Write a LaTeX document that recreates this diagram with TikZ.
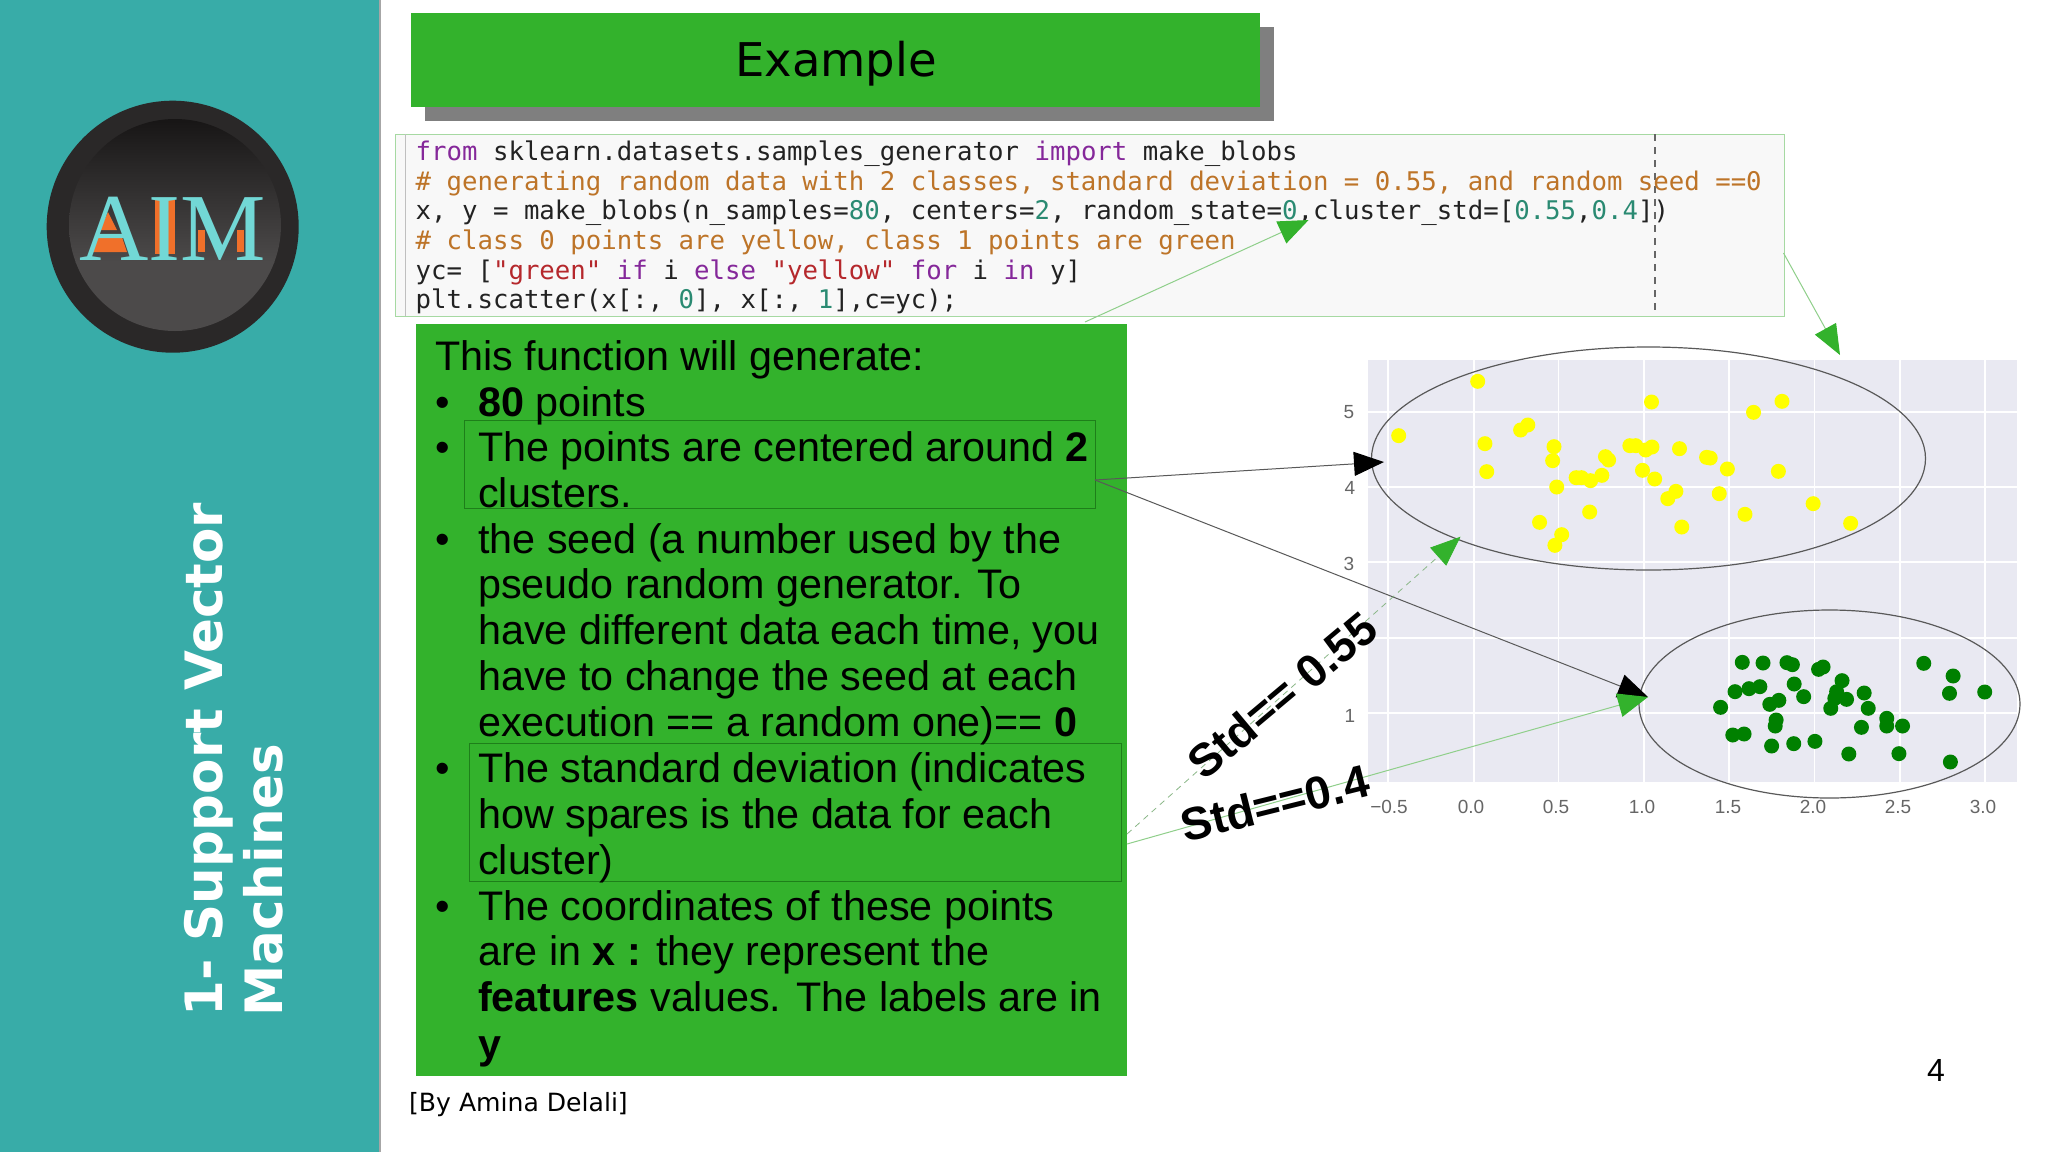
\documentclass[tikz,border=0pt]{standalone}
\usepackage{fontspec}
\setmainfont{Liberation Sans}
\newfontfamily\dejavu{DejaVu Sans}
\newfontfamily\dejamono{DejaVu Sans Mono}
\newfontfamily\logofont{Liberation Serif}
\usetikzlibrary{arrows.meta}
\definecolor{sidebar}{HTML}{38ACA8}
\definecolor{boxgreen}{HTML}{33B22C}
\definecolor{innerline}{HTML}{1E7F1A}
\definecolor{shadowgray}{HTML}{7F7F7F}
\definecolor{codebg}{HTML}{F8F8F8}
\definecolor{codeline}{HTML}{A6D9A2}
\definecolor{plotbg}{HTML}{E9E9F2}
\definecolor{arrowline}{HTML}{8FCF8A}
\definecolor{tick}{HTML}{666666}
\definecolor{ckw}{HTML}{85289A}
\definecolor{ccm}{HTML}{BD7428}
\definecolor{cstr}{HTML}{B5282C}
\definecolor{cnum}{HTML}{2A8A72}
\definecolor{ctx}{HTML}{222222}
\definecolor{logocyan}{HTML}{72D8D6}
\definecolor{logoorange}{HTML}{F0702A}
\definecolor{logotop}{HTML}{141212}
\definecolor{logomid}{HTML}{221F1F}
\definecolor{logolow}{HTML}{4C4A4A}
\definecolor{logoring}{HTML}{2A2828}
\definecolor{dotyellow}{RGB}{255,255,0}
\definecolor{dotgreen}{RGB}{0,128,0}
\newcommand{\kw}[1]{\textcolor{ckw}{#1}}
\newcommand{\cm}[1]{\textcolor{ccm}{#1}}
\newcommand{\st}[1]{\textcolor{cstr}{#1}}
\newcommand{\nm}[1]{\textcolor{cnum}{#1}}
\tikzset{
  flatbox/.style={rectangle,inner sep=0pt,outer sep=0pt,anchor=north west},
  gtext/.style={anchor=base west,inner sep=0pt,text=black,font=\fontsize{41.3}{46}\selectfont},
  gbullet/.style={anchor=base,inner sep=0pt,text=black,font=\fontsize{41.3}{46}\selectfont},
  codetext/.style={anchor=base west,inner sep=0pt,text=ctx,font=\dejamono\fontsize{25.7}{30}\selectfont},
  xtick/.style={anchor=center,inner sep=0pt,text=tick,font=\fontsize{19}{22}\selectfont},
  stdlabel/.style={inner sep=0pt,text=black,font=\bfseries\fontsize{46}{50}\selectfont},
  sidetext/.style={anchor=base west,inner sep=0pt,rotate=90,text=white,font=\dejavu\bfseries\fontsize{51.5}{56}\selectfont},
  ring/.style={draw=black!65,line width=1.2pt},
  blackarrow/.style={draw=black!65,line width=1pt,-{Triangle[length=30pt,width=24pt,color=black]}},
  greenarrow/.style={draw=arrowline,line width=1pt,-{Triangle[length=30pt,width=24pt,color=boxgreen]}},
  greendash/.style={draw=arrowline!70!gray,line width=.8pt,dash pattern=on 6pt off 5pt,-{Triangle[length=30pt,width=24pt,color=boxgreen]}},
}
\begin{document}
\begin{tikzpicture}[x=1pt,y=-1pt]
\useasboundingbox (0,0) rectangle (2048,1152);
\fill[white] (0,0) rectangle (2048,1152);
% side bar
\fill[black!35] (378,0) rectangle (381,1152);
\fill[sidebar] (0,0) rectangle (379,1152);
% logo
\fill[logoring] (172.7,226.7) circle[radius=126pt];
\begin{scope}
\clip (175,225) circle[radius=106pt];
\shade[top color=logotop,middle color=logomid,bottom color=logolow] (50,110) rectangle (300,262);
\fill[logolow] (50,262) rectangle (300,360);
\end{scope}
\fill[logoorange] (108,212) -- (100,230) -- (117,230) -- cycle;
\fill[logoorange] (95,237) -- (122,237) -- (127,252) -- (93,252) -- cycle;
\fill[logoorange] (155,200) rectangle (160,254);
\fill[logoorange] (168,200) rectangle (175,254);
\fill[logoorange] (198,230) rectangle (205,252);
\fill[logoorange] (237,230) rectangle (244,252);
\node[inner sep=0pt,anchor=base,text=logocyan,font=\logofont\fontsize{96}{100}\selectfont] (logo) at (172.7,260) {AIM};
\node[sidetext] (side1) at (222,1017) {1- Support Vector};
\node[sidetext] (side2) at (282,1017) {Machines};
% title
\node[flatbox,fill=shadowgray,minimum width=849pt,minimum height=94pt] (titleshadow) at (424.5,27) {};
\node[flatbox,fill=boxgreen,minimum width=849pt,minimum height=94pt] (titlebox) at (410.5,13) {};
\node[inner sep=0pt,text=black,font=\dejavu\fontsize{46.5}{50}\selectfont] (titletext) at (836,64) {Example};
% code
\node[flatbox,fill=codebg,draw=codeline,line width=1pt,minimum width=1389pt,minimum height=182pt] (codebox) at (395,134) {};
\draw[black!25,line width=1pt] (405,134) -- (405,316);
\draw[black!60,line width=1.1pt,dash pattern=on 7pt off 6pt] (1655,134) -- (1655,311);
\node[codetext] (c1) at (415.5,160.5) {\kw{from} sklearn.datasets.samples\_generator \kw{import} make\_blobs};
\node[codetext] (c2) at (415.5,190.5) {\cm{\# generating random data with 2 classes, standard deviation = 0.55, and random seed ==0}};
\node[codetext] (c3) at (415.5,219.5) {x, y = make\_blobs(n\_samples=\nm{80}, centers=\nm{2}, random\_state=\nm{0},cluster\_std=[\nm{0.55},\nm{0.4}])};
\node[codetext] (c4) at (415.5,249.5) {\cm{\# class 0 points are yellow, class 1 points are green}};
\node[codetext] (c5) at (415.5,279) {yc= [\st{"green"} \kw{if} i \kw{else} \st{"yellow"} \kw{for} i \kw{in} y]};
\node[codetext] (c6) at (415.5,308.5) {plt.scatter(x[:, \nm{0}], x[:, \nm{1}],c=yc);};
% green panel
\node[flatbox,fill=boxgreen,minimum width=711pt,minimum height=752pt] (panel) at (416,324) {};
\node[flatbox,draw=innerline,line width=1pt,minimum width=631pt,minimum height=88pt] (inner1) at (464,420) {};
\node[flatbox,draw=innerline,line width=1pt,minimum width=652pt,minimum height=138pt] (inner2) at (469,743) {};
\node[gtext] (l0) at (435,370) {This function will generate:};
\node[gbullet] (b1) at (443,416) {•};
\node[gtext] (l1) at (478,416) {\textbf{80} points};
\node[gbullet] (b2) at (443,461) {•};
\node[gtext] (l2) at (478,461) {The points are centered around \textbf{2}};
\node[gtext] (l3) at (478,507) {clusters.};
\node[gbullet] (b3) at (443,553) {•};
\node[gtext] (l4) at (478,553) {the seed (a number used by the};
\node[gtext] (l5) at (478,598.5) {pseudo random generator. To};
\node[gtext] (l6) at (478,644) {have different data each time, you};
\node[gtext] (l7) at (478,690) {have to change the seed at each};
\node[gtext] (l8) at (478,736) {execution == a random one)== \textbf{0}};
\node[gbullet] (b4) at (443,782.6) {•};
\node[gtext] (l9) at (478,782.6) {The standard deviation (indicates};
\node[gtext] (l10) at (478,828) {how spares is the data for each};
\node[gtext] (l11) at (478,874) {cluster)};
\node[gbullet] (b5) at (443,920) {•};
\node[gtext] (l12) at (478,920) {The coordinates of these points};
\node[gtext] (l13) at (478,965) {are in \textbf{x :} they represent the};
\node[gtext] (l14) at (478,1011) {\textbf{features} values. The labels are in};
\node[gtext] (l15) at (478,1058) {\textbf{y}};
\node[anchor=base west,inner sep=0pt,font=\dejavu\fontsize{25.1}{30}\selectfont] (credit) at (409,1111) {[By Amina Delali]};
\node[inner sep=0pt,font=\fontsize{32}{36}\selectfont] (pageno) at (1936,1070) {4};
% plot
\fill[plotbg] (1368,360) rectangle (2017,782);
\foreach \gx in {1388,1474,1558.5,1644,1729,1814.5,1900,1985}
  \draw[white,line width=1.6pt] (\gx,360) -- (\gx,782);
\foreach \gy in {411.7,486.7,561.7,638,713}
  \draw[white,line width=1.6pt] (1368,\gy) -- (2017,\gy);
\node[xtick] (y5) at (1349,412) {5};
\node[xtick] (y4) at (1350,488) {4};
\node[xtick] (y3) at (1349,564) {3};
\node[xtick] (y1) at (1350,716) {1};
\node[xtick] (xa) at (1389,807) {−0.5};
\node[xtick] (xb) at (1471,807) {0.0};
\node[xtick] (xc) at (1556,807) {0.5};
\node[xtick] (xd) at (1642,807) {1.0};
\node[xtick] (xe) at (1728,807) {1.5};
\node[xtick] (xf) at (1813,807) {2.0};
\node[xtick] (xg) at (1898,807) {2.5};
\node[xtick] (xh) at (1983,807) {3.0};
\foreach \px/\py in {305/124,130/287,416/255,400/270,321/311,325/395,474/320,471/362,480/441,442/547,491/584,476/616,553/516,523/413,535/413,555/422,580/406,588/350,595/360,642/317,655/317,677/330,691/321,670/391,697/417,752/326,812/352,820/354,858/387,744/454,726/476,840/461,757/561,897/523,971/394,1048/491,1131/550,916/217,979/184,690/186}
  \fill[dotyellow] ({1340+\px/2.215},{340+\py/3}) circle[radius=7.5pt];
\foreach \px/\py in {891/217,937/219,990/218,1002/224,1060/238,1070/231,1293/220,1358/258,1350/310,1428/306,1112/272,1006/282,875/305,906/296,930/290,972/331,952/343,1027/320,1100/305,1096/325,1122/328,1087/355,1161/309,1170/355,843/352,966/390,964/408,1211/385,1211/408,1246/408,1155/412,870/435,895/432,956/468,1005/461,1052/454,1127/492,1238/491,1352/516}
  \fill[dotgreen] ({1340+\px/2.215},{590+\py/3}) circle[radius=7.5pt];
\draw[ring] (1648.5,458.5) ellipse[x radius=277pt,y radius=111.5pt];
\draw[ring] (1829.5,704) ellipse[x radius=190.5pt,y radius=94pt];
% connectors
\coordinate (fromInner) at (1095,480);
\coordinate (tipTop) at (1384,462);
\coordinate (tipLow) at (1648,697);
\coordinate (tipCode) at (1308.6,220);
\coordinate (tipPlot) at (1840,355);
\coordinate (tipStd) at (1460.5,536.7);
\coordinate (startCode) at (1085,322);
\coordinate (startPlot) at (1783.5,253);
\coordinate (startDash) at (1127,834);
\coordinate (startStd) at (1127,844);
\draw[blackarrow] (fromInner) -- (tipTop);
\draw[blackarrow] (fromInner) -- (tipLow);
\draw[greenarrow] (startCode) -- (tipCode);
\draw[greenarrow] (startPlot) -- (tipPlot);
\draw[greendash] (startDash) -- (tipStd);
\draw[greenarrow] (startStd) -- (tipLow);
% std labels
\node[stdlabel,rotate=40] (std1) at (1282,695) {Std== 0.55};
\node[stdlabel,rotate=14] (std2) at (1275,803) {Std==0.4};
\end{tikzpicture}
\end{document}
